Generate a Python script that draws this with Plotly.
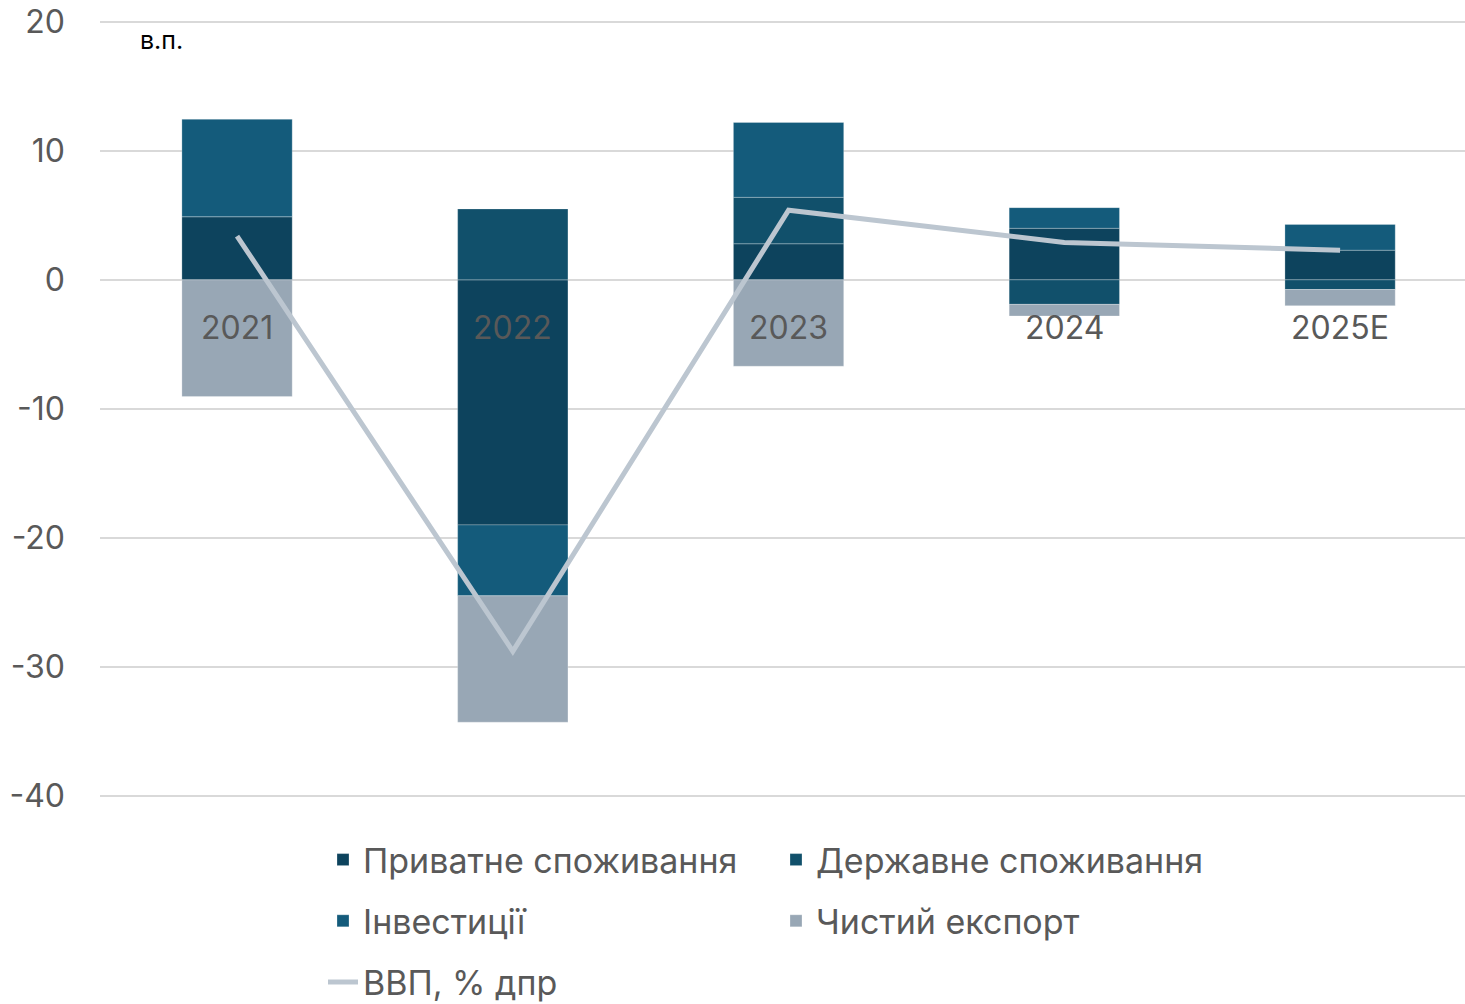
import plotly.graph_objects as go

years = ["2021", "2022", "2023", "2024", "2025E"]
private_cons = [4.9, -19.0, 2.8, 4.0, 2.3]
gov_cons = [0.0, 5.5, 3.6, -1.9, -0.75]
investment = [7.55, -5.5, 5.8, 1.6, 2.0]
net_exports = [-9.05, -9.8, -6.7, -0.9, -1.25]
gdp = [3.4, -28.8, 5.4, 2.9, 2.3]

names = ["Приватне споживання", "Державне споживання", "Інвестиції", "Чистий експорт", "ВВП, % дпр"]
colors = ["#0D435D", "#11506B", "#145B7B", "#98A7B5", "#BCC6D0"]
yticks = [20, 10, 0, -10, -20, -30, -40]

FONT = "Inter"
GRAY = "#595959"

PT, PB = 20, 797  # plot area top/bottom in px
PH = PB - PT

x_idx = list(range(len(years)))

fig = go.Figure()
series = [private_cons, gov_cons, investment, net_exports]
legend_ids = ["legend", "legend2", "legend", "legend2"]
for i, vals in enumerate(series):
    fig.add_trace(go.Bar(
        x=x_idx, y=vals, name=names[i], width=0.4,
        marker=dict(color=colors[i], line=dict(color="rgba(255,255,255,0.25)", width=1)),
        legend=legend_ids[i], legendgroup=f"g{i}",
    ))
fig.add_trace(go.Scatter(
    x=x_idx, y=gdp, name=names[4], mode="lines",
    line=dict(color=colors[4], width=5),
    legend="legend", legendgroup="g4",
))

for xi, lab in zip(x_idx, years):
    fig.add_annotation(x=xi, y=0, text=lab, showarrow=False, yanchor="top",
                       yshift=-26, font=dict(family=FONT, size=32, color=GRAY))

fig.add_annotation(xref="paper", yref="paper", x=(138 - 100) / 1365, y=(PB - 40) / PH,
                   xanchor="left", yanchor="middle", text="в.п.", showarrow=False,
                   font=dict(family=FONT, size=25, color="#000000"))

legend_common = dict(
    orientation="v", font=dict(family=FONT, size=34, color=GRAY),
    bgcolor="rgba(0,0,0,0)", tracegroupgap=14, xanchor="left", yanchor="top",
    itemwidth=30,
)

fig.update_layout(
    width=1465, height=1004,
    margin=dict(l=100, r=0, t=PT, b=1004 - PB, autoexpand=False),
    paper_bgcolor="white", plot_bgcolor="white",
    barmode="relative",
    showlegend=True,
    legend=dict(x=(323 - 100) / 1365, y=(PB - 831) / PH, **legend_common),
    legend2=dict(x=(776 - 100) / 1365, y=(PB - 831) / PH, **legend_common),
    xaxis=dict(range=[-0.497, 4.453], showticklabels=False, showgrid=False,
               zeroline=False, showline=False, automargin=False),
    yaxis=dict(range=[-40.1, 20.15], tickvals=yticks, ticktext=[str(v) for v in yticks],
               showgrid=True, gridcolor="#D9D9D9", gridwidth=2,
               zeroline=True, zerolinecolor="#D9D9D9", zerolinewidth=2,
               showline=False, ticks="", ticklabelstandoff=34, automargin=False,
               tickfont=dict(family=FONT, size=32, color=GRAY)),
)

fig.write_html("out.html", config={"displayModeBar": False},
               post_script="document.body.style.margin='0px';")
